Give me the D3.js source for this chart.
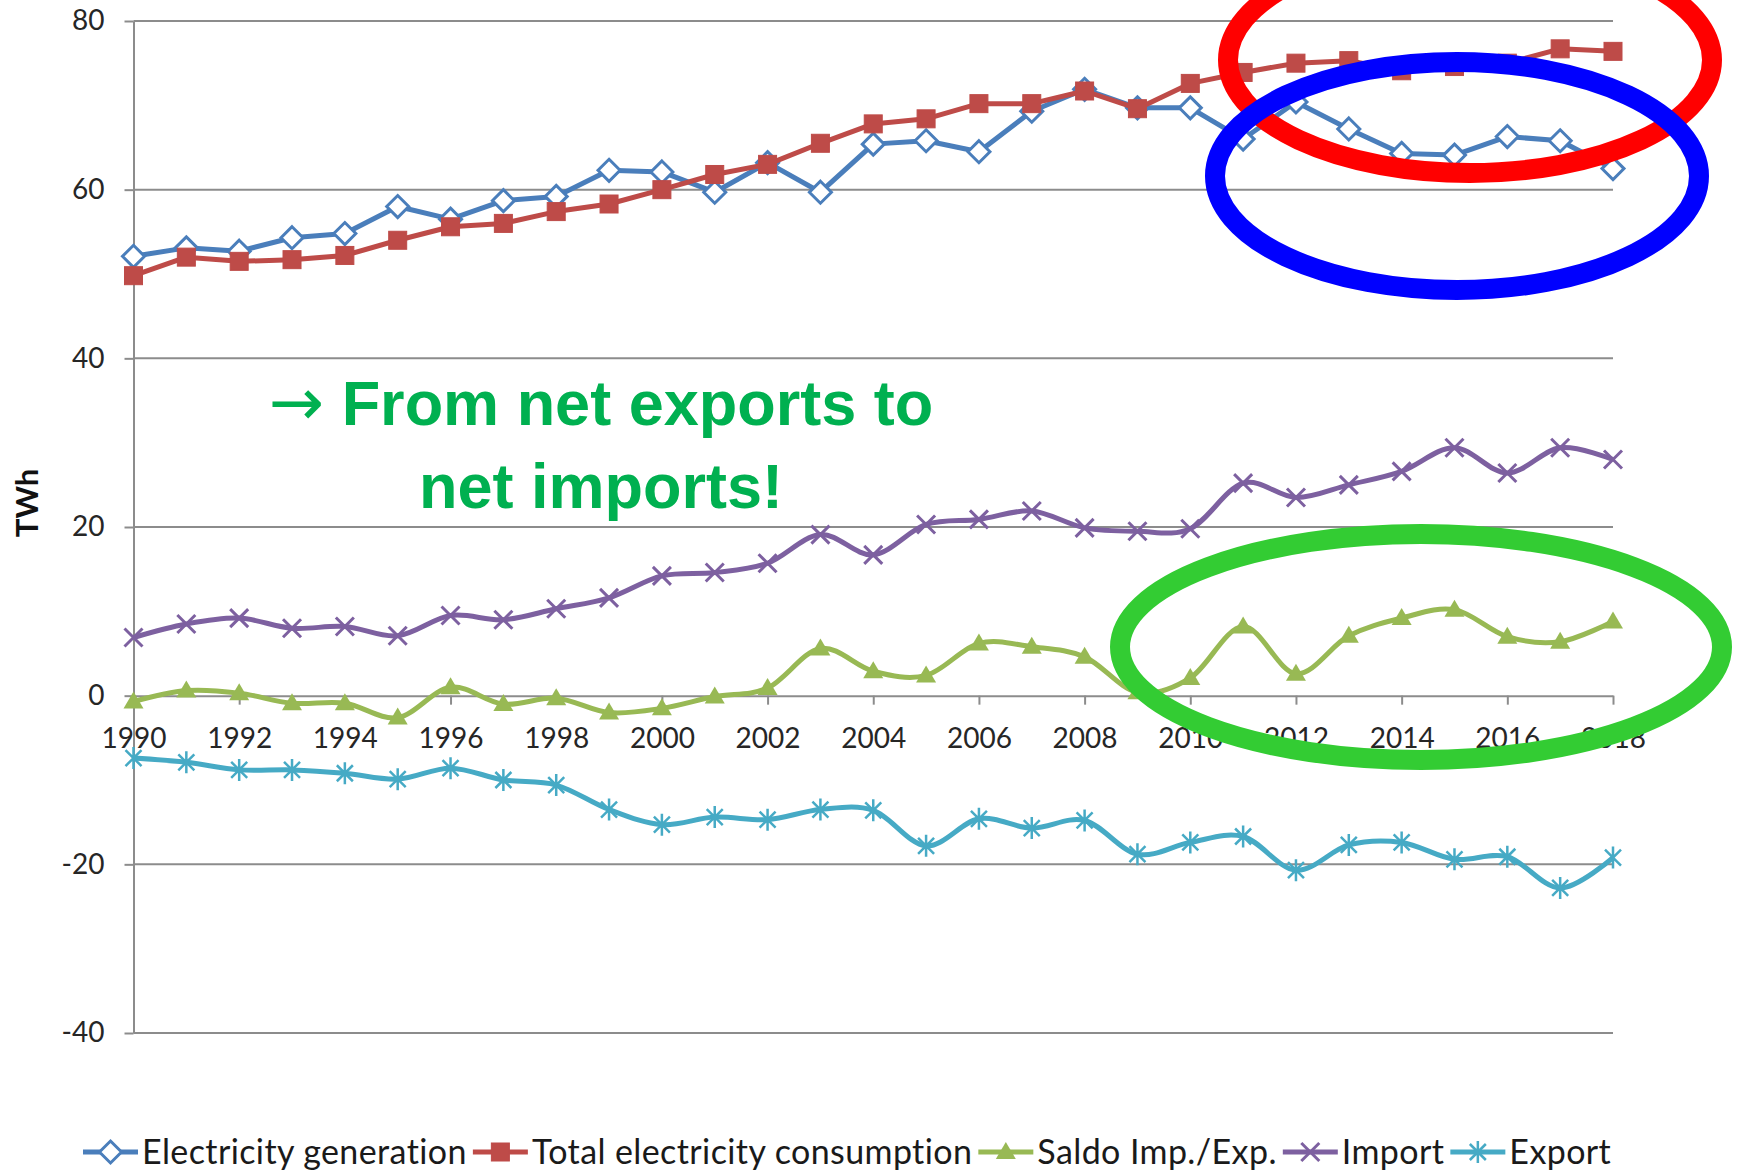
<!DOCTYPE html>
<html>
<head>
<meta charset="utf-8">
<script src="https://cdn.jsdelivr.net/npm/d3@7"></script>
<style>
  body { margin: 0; background: #fff; }
  svg { display: block; }
  .tick text { font-family: Lato, "Open Sans", sans-serif; fill: #262626; }
</style>
</head>
<body>
<div id="chart"></div>
<script>
// chart values (TWh)
var years = [1990, 1991, 1992, 1993, 1994, 1995, 1996, 1997, 1998, 1999, 2000, 2001, 2002, 2003, 2004,
             2005, 2006, 2007, 2008, 2009, 2010, 2011, 2012, 2013, 2014, 2015, 2016, 2017, 2018];
var generation  = [52.1, 53.1, 52.7, 54.3, 54.8, 58.0, 56.5, 58.7, 59.2, 62.3, 62.1, 59.7, 63.2, 59.7, 65.4,
                   65.8, 64.5, 69.3, 71.9, 69.7, 69.7, 66.0, 70.4, 67.2, 64.3, 64.1, 66.3, 65.8, 62.5];
var consumption = [49.8, 52.0, 51.5, 51.7, 52.2, 54.0, 55.6, 56.0, 57.4, 58.3, 60.0, 61.8, 63.0, 65.5, 67.8,
                   68.4, 70.2, 70.2, 71.7, 69.6, 72.6, 73.9, 75.0, 75.3, 74.1, 74.6, 75.0, 76.7, 76.4];
var saldo       = [-0.7, 0.6, 0.3, -0.9, -0.9, -2.6, 1.0, -1.0, -0.3, -2.0, -1.5, -0.1, 0.9, 5.6, 2.9,
                   2.4, 6.2, 5.8, 4.6, 0.4, 2.1, 8.2, 2.6, 7.1, 9.2, 10.2, 7.0, 6.4, 8.8];
var imports     = [6.9, 8.5, 9.2, 8.0, 8.2, 7.1, 9.5, 9.0, 10.3, 11.6, 14.2, 14.6, 15.7, 19.1, 16.7,
                   20.3, 20.9, 21.9, 19.9, 19.5, 19.8, 25.2, 23.5, 25.0, 26.6, 29.4, 26.4, 29.4, 28.0];
var exports     = [-7.4, -7.9, -8.8, -8.8, -9.2, -9.9, -8.6, -10.0, -10.6, -13.5, -15.3, -14.4, -14.7, -13.5, -13.6,
                   -17.8, -14.6, -15.7, -14.8, -18.8, -17.4, -16.7, -20.7, -17.7, -17.4, -19.4, -19.1, -22.8, -19.2];

var xTicks = [1990, 1992, 1994, 1996, 1998, 2000, 2002, 2004, 2006, 2008, 2010, 2012, 2014, 2016, 2018];
var yTicks = [-40, -20, 0, 20, 40, 60, 80];

var seriesNames = ["Electricity generation", "Total electricity consumption", "Saldo Imp./Exp.", "Import", "Export"];

var width = 1744, height = 1174;

var svg = d3.select("#chart").append("svg")
  .attr("width", width)
  .attr("height", height);

var x = d3.scaleLinear().domain([1990, 2018]).range([133.5, 1613]);
var y = d3.scaleLinear().domain([-40, 80]).range([1033, 21]);

// gridlines
svg.append("g").selectAll("line")
  .data(yTicks.filter(function(d) { return d !== 0; }))
  .enter().append("line")
    .attr("x1", x(1990)).attr("x2", x(2018))
    .attr("y1", function(d) { return y(d); })
    .attr("y2", function(d) { return y(d); })
    .attr("stroke", "#8c8c8c")
    .attr("stroke-width", 2);

// y axis (plain hyphen for negatives, like the original)
var yAxis = svg.append("g")
  .attr("transform", "translate(" + x(1990) + ",0)")
  .call(d3.axisLeft(y).tickValues(yTicks).tickSize(9).tickSizeOuter(0).tickPadding(20)
    .tickFormat(function(d) { return String(d); }));
yAxis.selectAll("path, line").attr("stroke", "#8c8c8c").attr("stroke-width", 2);
yAxis.selectAll("text").attr("font-size", 28);

// x axis at zero
var xAxis = svg.append("g")
  .attr("transform", "translate(0," + y(0) + ")")
  .call(d3.axisBottom(x).tickValues(xTicks).tickSize(9).tickSizeOuter(0).tickFormat(d3.format("d")));
xAxis.selectAll("path, line").attr("stroke", "#8c8c8c").attr("stroke-width", 2);
xAxis.selectAll("text").attr("font-size", 28).attr("y", 52).attr("dy", 0);

// axis title
svg.append("text")
  .attr("transform", "translate(38,503) rotate(-90)")
  .attr("text-anchor", "middle")
  .attr("font-family", "Lato, sans-serif")
  .attr("font-weight", "bold")
  .attr("font-size", 31)
  .attr("fill", "#111")
  .text("TWh");

// markers
function diamond(g, c) {
  g.append("path").attr("d", "M0,-11L11,0L0,11L-11,0Z")
    .attr("fill", "#fff").attr("stroke", c).attr("stroke-width", 3);
}
function square(g, c) {
  g.append("rect").attr("x", -9).attr("y", -9).attr("width", 18).attr("height", 18)
    .attr("fill", c).attr("stroke", c).attr("stroke-width", 1);
}
function triangle(g, c) {
  g.append("path").attr("d", "M0,-10L10,7L-10,7Z").attr("fill", c);
}
function cross(g, c) {
  g.append("path").attr("d", "M-9,-9L9,9M-9,9L9,-9")
    .attr("stroke", c).attr("stroke-width", 3);
}
function star(g, c) {
  g.append("path").attr("d", "M-8,-8L8,8M-8,8L8,-8M0,-11L0,11")
    .attr("stroke", c).attr("stroke-width", 2.5);
}

var series = [
  { name: seriesNames[0], values: generation,  color: "#4A7EBB", marker: diamond,  smooth: false },
  { name: seriesNames[1], values: consumption, color: "#BE4B48", marker: square,   smooth: false },
  { name: seriesNames[2], values: saldo,       color: "#98B954", marker: triangle, smooth: true },
  { name: seriesNames[3], values: imports,     color: "#7D60A0", marker: cross,    smooth: true },
  { name: seriesNames[4], values: exports,     color: "#46AAC5", marker: star,     smooth: true }
];

series.forEach(function(s) {
  var line = d3.line()
    .x(function(d, i) { return x(years[i]); })
    .y(function(d) { return y(d); })
    .curve(s.smooth ? d3.curveCardinal.tension(0) : d3.curveLinear);

  svg.append("path")
    .datum(s.values)
    .attr("d", line)
    .attr("fill", "none")
    .attr("stroke", s.color)
    .attr("stroke-width", 5)
    .attr("stroke-linejoin", "round");

  svg.append("g").selectAll("g")
    .data(s.values)
    .enter().append("g")
      .attr("transform", function(d, i) { return "translate(" + x(years[i]) + "," + y(d) + ")"; })
      .each(function() { s.marker(d3.select(this), s.color); });
});

// legend
var lx = 83, ly = 1152;
series.forEach(function(s) {
  var g = svg.append("g");
  g.append("line").attr("x1", lx).attr("x2", lx + 55).attr("y1", ly).attr("y2", ly)
    .attr("stroke", s.color).attr("stroke-width", 5);
  var m = g.append("g").attr("transform", "translate(" + (lx + 27.5) + "," + ly + ")");
  s.marker(m, s.color);
  var t = g.append("text")
    .attr("x", lx + 59).attr("y", ly).attr("dy", "0.36em")
    .attr("font-family", "Lato, sans-serif")
    .attr("font-size", 34)
    .attr("letter-spacing", 0.4)
    .attr("fill", "#1a1a1a")
    .text(s.name);
  lx += 59 + t.node().getComputedTextLength() + 6;
});

// annotation
var note = svg.append("g")
  .attr("font-family", "'Liberation Sans', Arial, sans-serif")
  .attr("font-weight", "bold")
  .attr("font-size", 63)
  .attr("fill", "#00B050")
  .attr("text-anchor", "middle");
var l1 = note.append("text").attr("x", 601).attr("y", 425);
l1.append("tspan").attr("font-family", "'DejaVu Sans', sans-serif").attr("font-weight", "normal")
  .attr("font-size", 66).text("\u2192");
l1.append("tspan").text(" From net exports to");
note.append("text").attr("x", 601).attr("y", 508).text("net imports!");

// highlight ellipses
var rings = [
  { cx: 1470, cy: 60,  rx: 242, ry: 113, color: "#FF0000" },
  { cx: 1457, cy: 176, rx: 242, ry: 114, color: "#0000FF" },
  { cx: 1421, cy: 647, rx: 301, ry: 113, color: "#33CC33" }
];
svg.append("g").selectAll("ellipse")
  .data(rings)
  .enter().append("ellipse")
    .attr("cx", function(d) { return d.cx; })
    .attr("cy", function(d) { return d.cy; })
    .attr("rx", function(d) { return d.rx; })
    .attr("ry", function(d) { return d.ry; })
    .attr("fill", "none")
    .attr("stroke", function(d) { return d.color; })
    .attr("stroke-width", 20);
</script>
</body>
</html>
